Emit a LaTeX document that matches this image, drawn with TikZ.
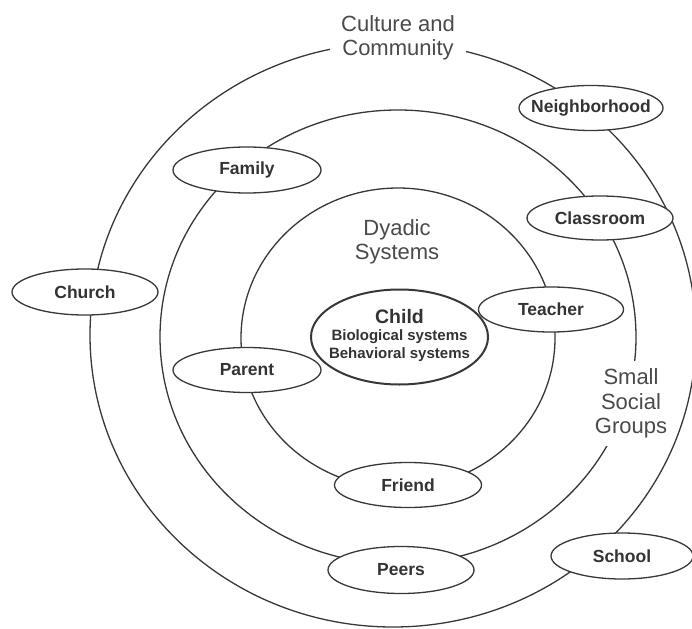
\documentclass[tikz,border=0pt]{standalone}
\usepackage{fontspec}
\setmainfont{Liberation Sans}
\usetikzlibrary{shapes.geometric}
\definecolor{linegray}{HTML}{383838}
\definecolor{labelgray}{HTML}{333333}
\definecolor{regiongray}{HTML}{4A4A4A}
\begin{document}
\begin{tikzpicture}[x=1pt,y=-1pt,
  ring/.style={draw=linegray, line width=1.3pt},
  bub/.style={ellipse, draw=linegray, line width=1.3pt, fill=white, inner sep=0pt,
    minimum width=146pt, minimum height=45pt,
    font=\fontsize{17.5}{20}\selectfont\bfseries, text=labelgray},
  region/.style={align=center, text=regiongray,
    font=\fontsize{22}{24.5}\selectfont}]
\useasboundingbox (0,0) rectangle (692,628);
\fill[white] (0,0) rectangle (692,628);
% rings
\draw[ring] (393,335) ellipse [x radius=303pt, y radius=292pt];
\draw[ring] (398,337) ellipse [x radius=238pt, y radius=227pt];
\draw[ring] (398,338) ellipse [x radius=157pt, y radius=150pt];
% region labels
\node[region, fill=white, inner xsep=11pt, inner ysep=1pt] (culture) at (398,38) {Culture and\\Community};
\node[region, fill=white, inner xsep=4pt, inner ysep=8pt] (small) at (631,403.5) {Small\\Social\\Groups};
\node[region] (dyadic) at (397,242) {Dyadic\\Systems};
% bubbles
\node[bub, minimum width=144pt] (nb) at (591,108) {\makebox[0pt]{Neighborhood}};
\node[bub, minimum width=148pt, minimum height=46pt] (fam) at (247,170) {\makebox[0pt]{Family}};
\node[bub, minimum height=44pt] (cls) at (600,218) {\makebox[0pt]{Classroom}};
\node[bub, minimum height=46pt] (church) at (85,292) {\makebox[0pt]{Church}};
\node[bub, minimum width=145pt] (tch) at (551,309.5) {\makebox[0pt]{Teacher}};
\node[bub, minimum width=148pt] (par) at (247,370) {\makebox[0pt]{Parent}};
\node[bub, minimum width=147pt] (fr) at (408,485) {\makebox[0pt]{Friend}};
\node[bub, minimum height=47pt] (peers) at (401,570) {\makebox[0pt]{Peers}};
\node[bub, minimum width=142pt, minimum height=46pt] (school) at (622,556) {\makebox[0pt]{School}};
\node[bub, line width=2pt, minimum width=177pt, minimum height=95pt] (child) at (399.5,337)
  {\makebox[0pt]{\begin{tabular}{@{}c@{}}{\fontsize{19.5}{20}\selectfont Child}\\[-3pt]
   {\fontsize{15}{17}\selectfont Biological systems}\\[-2pt]
   {\fontsize{15}{17}\selectfont Behavioral systems}\end{tabular}}};
\end{tikzpicture}
\end{document}
